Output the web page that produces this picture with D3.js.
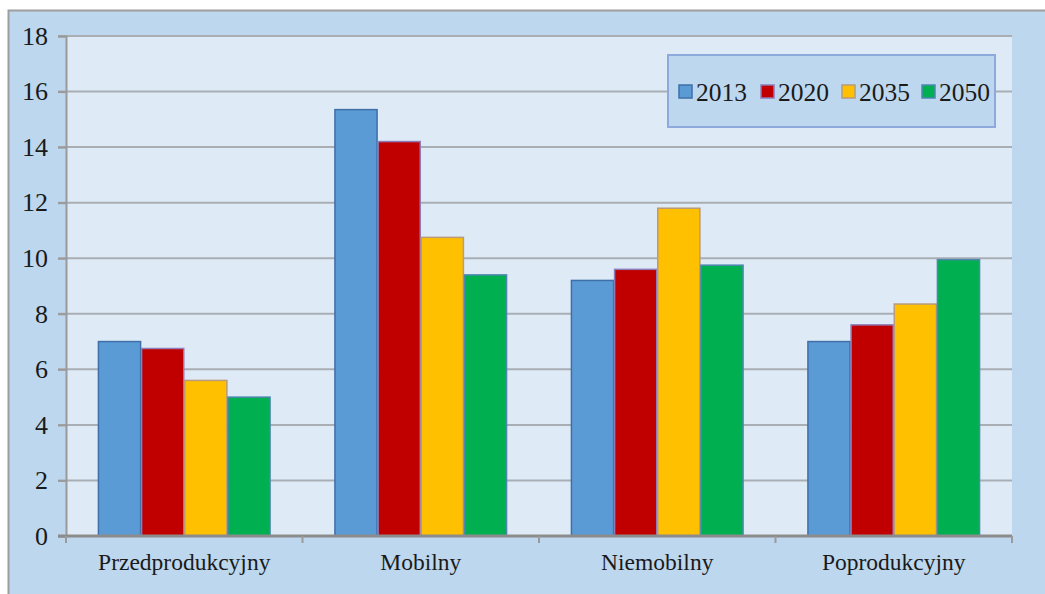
<!DOCTYPE html>
<html>
<head>
<meta charset="utf-8">
<script src="https://cdn.jsdelivr.net/npm/d3@7"></script>
<style>
  body { margin: 0; background: #fff; }
  text { font-family: "Liberation Serif", "Times New Roman", serif; fill: #1a1a1a; }
</style>
</head>
<body>
<div id="chart"></div>
<script>
var width = 1045;
var height = 594;

// categories, series and values
var categories = ['Przedprodukcyjny', 'Mobilny', 'Niemobilny', 'Poprodukcyjny'];
var years = ['2013', '2020', '2035', '2050'];
var v2013 = [7.0, 15.35, 9.2, 7.0];
var v2020 = [6.75, 14.2, 9.6, 7.6];
var v2035 = [5.6, 10.75, 11.8, 8.35];
var v2050 = [5.0, 9.4, 9.75, 9.95];
var yTicks = [0, 2, 4, 6, 8, 10, 12, 14, 16, 18];
var colors = ['#5B9BD5', '#C00000', '#FFC000', '#00B050'];
var strokes = ['#3F6FA8', '#8E7BB8', '#B99A7A', '#4E86B0'];

var series = [v2013, v2020, v2035, v2050];

var margin = {left: 66, right: 33, top: 36, bottom: 58};

var svg = d3.select('#chart').append('svg')
      .attr('width', width)
      .attr('height', height)

// outer chart area
svg.append('rect')
      .attr('x', 8.5).attr('y', 10.5)
      .attr('width', width).attr('height', height)
      .attr('fill', '#BDD7EE')
      .attr('stroke', '#9E9E9E')
      .attr('stroke-width', 2)

var x0 = d3.scaleBand()
      .domain(categories)
      .range([margin.left, width - margin.right])
      .paddingInner(0.27)
      .paddingOuter(0.135)

var x1 = d3.scaleBand()
      .domain(years)
      .range([0, x0.bandwidth()])

var y = d3.scaleLinear()
      .domain([0, 18])
      .range([height - margin.bottom, margin.top])

// plot area
svg.append('rect')
      .attr('x', margin.left)
      .attr('y', y(18))
      .attr('width', width - margin.right - margin.left)
      .attr('height', y(0) - y(18))
      .attr('fill', '#DEEAF6')

// gridlines
svg.append('g')
      .selectAll('line')
      .data(yTicks.filter(d => d > 0))
      .enter().append('line')
      .attr('x1', margin.left - 8)
      .attr('x2', width - margin.right)
      .attr('y1', d => y(d))
      .attr('y2', d => y(d))
      .attr('stroke', '#A9AEB5')
      .attr('stroke-width', 2)

// bars
var groups = svg.append('g')
      .selectAll('g')
      .data(categories)
      .enter().append('g')
      .attr('transform', d => 'translate(' + x0(d) + ',0)')

groups.selectAll('rect')
      .data((c, i) => years.map((yr, j) => ({year: yr, idx: j, value: series[j][i]})))
      .enter().append('rect')
      .attr('x', d => x1(d.year) + 0.5)
      .attr('y', d => y(d.value))
      .attr('width', x1.bandwidth() - 1)
      .attr('height', d => y(0) - y(d.value))
      .attr('fill', d => colors[d.idx])
      .attr('stroke', d => strokes[d.idx])
      .attr('stroke-width', 1.5)

// y axis
var yAxis = d3.axisLeft(y)
      .tickValues(yTicks)
      .tickSize(8)
      .tickPadding(10)

var yg = svg.append('g')
      .attr('transform', 'translate(' + margin.left + ',0)')
      .call(yAxis)
yg.select('.domain').attr('stroke', '#9A9A9A').attr('stroke-width', 2)
yg.selectAll('.tick line').attr('stroke', '#9A9A9A').attr('stroke-width', 2)
yg.selectAll('.tick text')
      .style('font-size', '26px')
      .style('font-family', '"Liberation Serif", serif')
      .attr('fill', '#1a1a1a')

// x axis
var xg = svg.append('g')
      .attr('transform', 'translate(0,' + y(0) + ')')
xg.append('line')
      .attr('x1', margin.left - 8)
      .attr('x2', width - margin.right)
      .attr('stroke', '#8C8C8C')
      .attr('stroke-width', 3)
var step = x0.step();
xg.selectAll('.sep')
      .data(d3.range(categories.length + 1))
      .enter().append('line')
      .attr('x1', i => margin.left + i * step)
      .attr('x2', i => margin.left + i * step)
      .attr('y1', 0).attr('y2', 7)
      .attr('stroke', '#9A9A9A')
      .attr('stroke-width', 2)
xg.selectAll('text')
      .data(categories)
      .enter().append('text')
      .attr('x', d => x0(d) + x0.bandwidth() / 2)
      .attr('y', 34)
      .attr('text-anchor', 'middle')
      .style('font-size', '23.5px')
      .text(d => d)

// legend
var legend = svg.append('g')
      .attr('transform', 'translate(668,55)')
legend.append('rect')
      .attr('width', 327).attr('height', 72)
      .attr('fill', '#BDD7EE')
      .attr('stroke', '#8EA9DB')
      .attr('stroke-width', 2)
var itemX = [11, 93, 174, 254];
var items = legend.selectAll('.item')
      .data(years)
      .enter().append('g')
      .attr('transform', (d, i) => 'translate(' + itemX[i] + ',0)')
items.append('rect')
      .attr('x', 0).attr('y', 30)
      .attr('width', 13).attr('height', 13)
      .attr('fill', (d, i) => colors[i])
      .attr('stroke', (d, i) => strokes[i])
      .attr('stroke-width', 1.5)
items.append('text')
      .attr('x', 17)
      .attr('y', 46)
      .style('font-size', '25.5px')
      .text(d => d)
</script>
</body>
</html>
